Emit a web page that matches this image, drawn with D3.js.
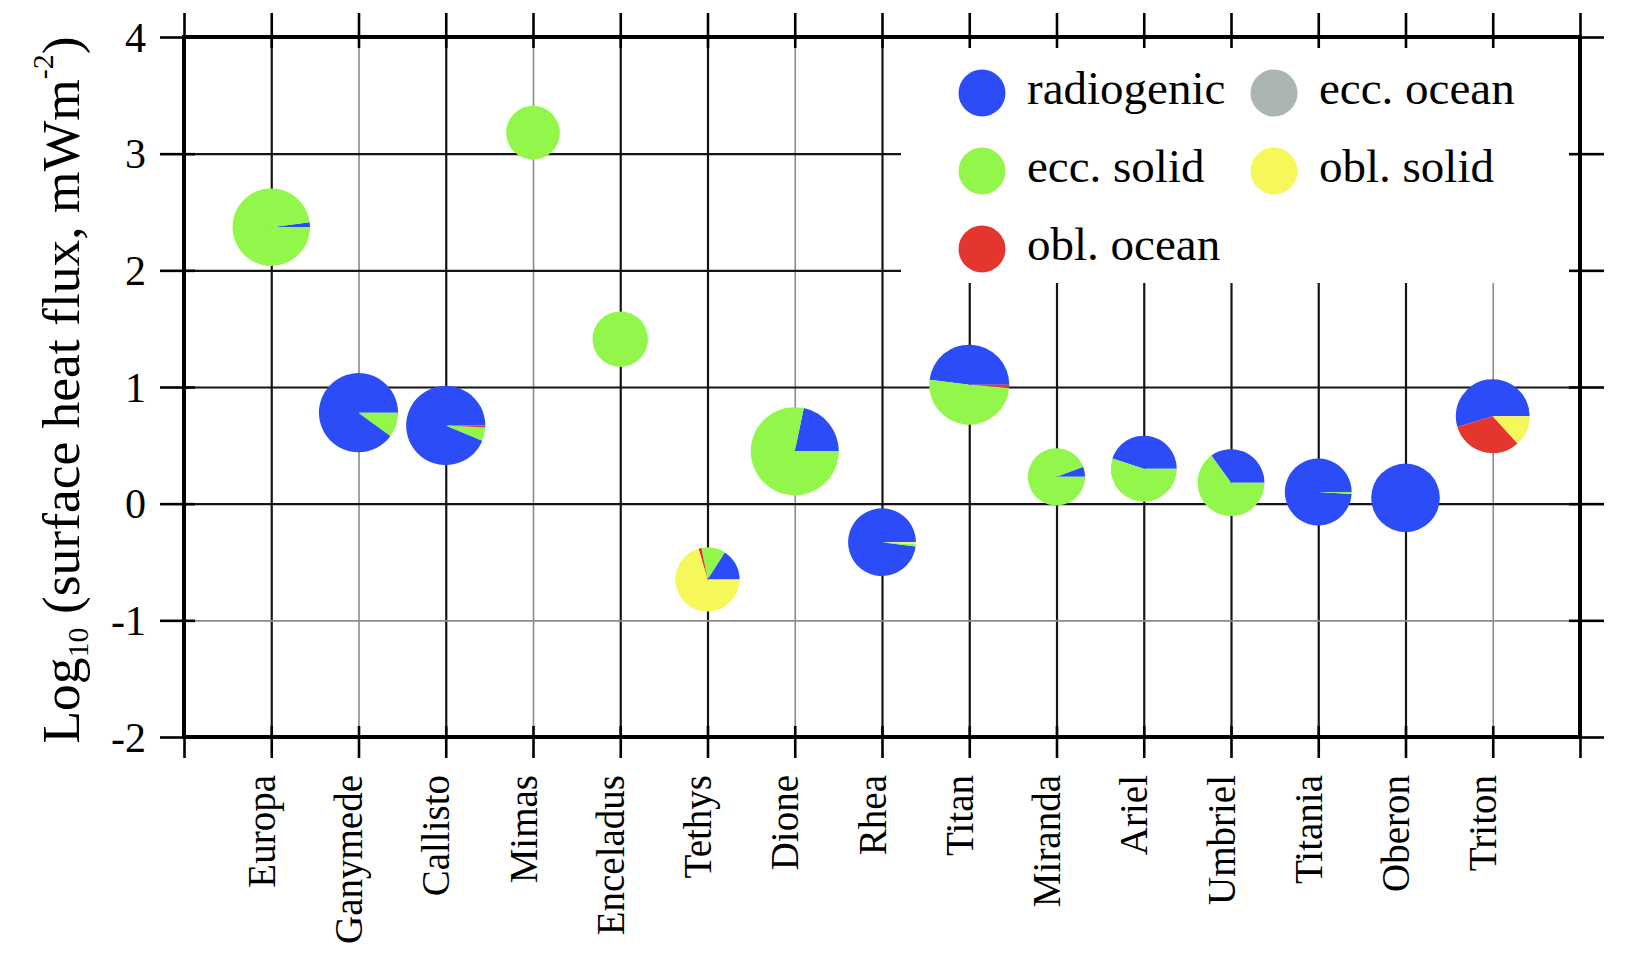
<!DOCTYPE html>
<html>
<head>
<meta charset="utf-8">
<script src="https://cdn.jsdelivr.net/npm/d3@7"></script>
<style>
  body { margin: 0; background: #fff; }
  text { font-family: "Liberation Serif", "Times New Roman", serif; fill: #000; }
</style>
</head>
<body>
<svg id="chart" width="1626" height="964"></svg>
<script>
// moons along the x axis
const moons = ["Europa", "Ganymede", "Callisto", "Mimas", "Enceladus", "Tethys", "Dione", "Rhea",
  "Titan", "Miranda", "Ariel", "Umbriel", "Titania", "Oberon", "Triton"];

// log10 of surface heat flux (mW m^-2), centre of each pie
const logFlux = [2.37, 0.78, 0.67, 3.18, 1.41, -0.65, 0.45, -0.33, 1.02, 0.23, 0.30, 0.18, 0.10, 0.05, 0.75];

// relative pie size (Dione = 1)
const pieSize = [0.88, 0.90, 0.90, 0.61, 0.63, 0.73, 1.00, 0.77, 0.91, 0.65, 0.75, 0.76, 0.76, 0.78, 0.84];

// fraction of the flux from each source
const sources = ["radiogenic", "ecc. solid", "obl. ocean", "ecc. ocean", "obl. solid"];
const radiogenic = [0.02, 0.90, 0.937, 0, 0, 0.16, 0.217, 0.98, 0.48, 0.058, 0.45, 0.35, 0.99, 1, 0.547];
const eccSolid   = [0.98, 0.10, 0.055, 1, 1, 0.12, 0.783, 0.01, 0.508, 0.942, 0.55, 0.65, 0.01, 0, 0];
const oblOcean   = [0, 0, 0.008, 0, 0, 0.015, 0, 0, 0.012, 0, 0, 0, 0, 0, 0.32];
const eccOcean   = [0, 0, 0, 0, 0, 0, 0, 0, 0, 0, 0, 0, 0, 0, 0];
const oblSolid   = [0, 0, 0, 0, 0, 0.705, 0, 0.01, 0, 0, 0, 0, 0, 0, 0.133];

const yTicks = [-2, -1, 0, 1, 2, 3, 4];

const colors = {
  "radiogenic": "#2b4cf6",
  "ecc. solid": "#93f64b",
  "obl. ocean": "#e5352f",
  "ecc. ocean": "#a9b4b3",
  "obl. solid": "#f6f75a"
};
// lighter grid lines in the original
const grayGridX = ["Ganymede", "Mimas", "Dione", "Triton"];
const grayGridY = [-1];

const svg = d3.select("#chart");
const pLeft = 184, pRight = 1580, pTop = 37, pBottom = 737;

const x = d3.scaleLinear().domain([0, moons.length + 1]).range([pLeft, pRight]);
const y = d3.scaleLinear().domain([-2, 4]).range([pBottom, pTop]);
const r = d3.scaleLinear().domain([0, 1]).range([0, 44]);

// grid lines
svg.append("g")
  .attr("transform", `translate(0,${pBottom})`)
  .call(d3.axisBottom(x).tickValues(d3.range(1, moons.length + 1))
    .tickSize(-(pBottom - pTop)).tickFormat(""))
  .call(g => g.select(".domain").remove())
  .selectAll("line")
  .attr("stroke", d => grayGridX.includes(moons[d - 1]) ? "#8a8a8a" : "#151515")
  .attr("stroke-width", d => grayGridX.includes(moons[d - 1]) ? 1.6 : 2.2);

svg.append("g")
  .attr("transform", `translate(${pLeft},0)`)
  .call(d3.axisLeft(y).tickValues([-1, 0, 1, 2, 3])
    .tickSize(-(pRight - pLeft)).tickFormat(""))
  .call(g => g.select(".domain").remove())
  .selectAll("line")
  .attr("stroke", d => grayGridY.includes(d) ? "#8a8a8a" : "#151515")
  .attr("stroke-width", d => grayGridY.includes(d) ? 1.6 : 2.2);

// legend background hides the grid
const legend = svg.append("g");
legend.append("rect")
  .attr("x", 901).attr("y", pTop).attr("width", pRight - 901).attr("height", 283 - pTop)
  .attr("fill", "#fff");

const legendCols = [982, 1274], legendRows = [93, 171, 249];
legend.selectAll("g.item")
  .data(sources)
  .enter()
  .append("g")
  .attr("class", "item")
  .attr("transform", (d, i) => `translate(${legendCols[Math.floor(i / 3)]},${legendRows[i % 3]})`)
  .each(function (d) {
    const g = d3.select(this);
    g.append("circle").attr("r", 23.5).attr("fill", colors[d]);
    g.append("text").attr("x", 45).attr("dy", "0.23em")
      .style("font-size", "47px").text(d);
  });

// pies, counter-clockwise from 3 o'clock
const pie = d3.pie().sort(null).value(d => d.value)
  .startAngle(Math.PI / 2).endAngle(Math.PI / 2 - 2 * Math.PI);
const arc = d3.arc().innerRadius(0);
const shares = [radiogenic, eccSolid, oblOcean, eccOcean, oblSolid];

moons.forEach((m, i) => {
  const slices = sources.map((s, k) => ({ key: s, value: shares[k][i] }));
  svg.append("g")
    .attr("transform", `translate(${x(i + 1)},${y(logFlux[i])})`)
    .selectAll("path")
    .data(pie(slices).filter(d => d.data.value > 0))
    .enter()
    .append("path")
    .attr("d", d => arc.outerRadius(r(pieSize[i]))(d))
    .attr("fill", d => colors[d.data.key]);
});

// frame
svg.append("rect")
  .attr("x", pLeft).attr("y", pTop).attr("width", pRight - pLeft).attr("height", pBottom - pTop)
  .attr("fill", "none").attr("stroke", "#000").attr("stroke-width", 4);

// ticks crossing the frame
const allX = d3.range(0, moons.length + 2);
function ticks(axis, tr, vals, size) {
  svg.append("g").attr("transform", tr)
    .call(axis.tickValues(vals).tickSize(size).tickFormat(""))
    .call(g => g.select(".domain").remove())
    .selectAll("line").attr("stroke", "#000").attr("stroke-width", 2.6);
}
ticks(d3.axisTop(x), `translate(0,${pTop})`, allX, 24);
ticks(d3.axisTop(x), `translate(0,${pTop})`, allX, -11);
ticks(d3.axisBottom(x), `translate(0,${pBottom})`, allX, 21);
ticks(d3.axisBottom(x), `translate(0,${pBottom})`, allX, -11);
ticks(d3.axisRight(y), `translate(${pRight},0)`, yTicks, 24);
ticks(d3.axisRight(y), `translate(${pRight},0)`, yTicks, -11);
ticks(d3.axisLeft(y), `translate(${pLeft},0)`, yTicks, -11);

// left axis with labels
svg.append("g")
  .attr("transform", `translate(${pLeft},0)`)
  .call(d3.axisLeft(y).tickValues(yTicks).tickSize(24).tickPadding(14).tickFormat(d => String(d)))
  .call(g => g.select(".domain").remove())
  .call(g => g.selectAll("line").attr("stroke", "#000").attr("stroke-width", 2.6))
  .selectAll("text")
  .attr("dy", "0.34em")
  .style("font-size", "42px")
  .style("font-family", "Liberation Serif, serif");

// moon names
svg.append("g")
  .attr("transform", `translate(0,${pBottom})`)
  .call(d3.axisBottom(x).tickValues(d3.range(1, moons.length + 1)).tickSize(0)
    .tickFormat(d => moons[d - 1]))
  .call(g => g.select(".domain").remove())
  .selectAll("text")
  .attr("transform", "rotate(-90)")
  .attr("x", -38).attr("y", 3).attr("dy", "0")
  .attr("text-anchor", "end")
  .style("font-size", "39px")
  .style("font-family", "Liberation Serif, serif");

// y axis title
const title = svg.append("text")
  .attr("transform", "translate(79,390) rotate(-90)")
  .attr("text-anchor", "middle")
  .style("font-size", "53.5px");
title.append("tspan").text("Log");
title.append("tspan").attr("dy", 9).style("font-size", "30px").text("10");
title.append("tspan").attr("dy", -9).text(" (surface heat flux, mWm");
title.append("tspan").attr("dy", -26).style("font-size", "30px").text("-2");
title.append("tspan").attr("dy", 26).text(")");
</script>
</body>
</html>
